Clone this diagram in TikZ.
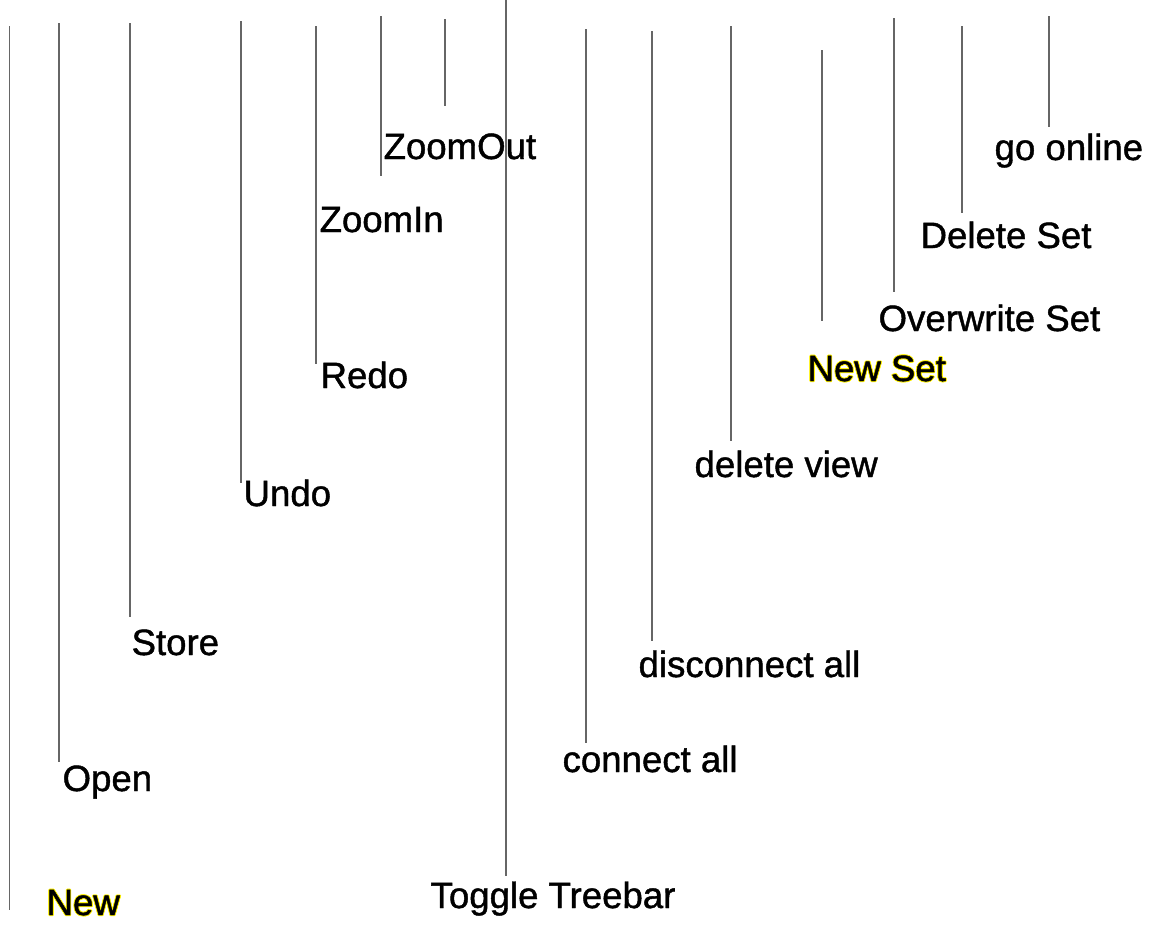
\documentclass[tikz,border=0pt]{standalone}
\usepackage{fontspec}
\setmainfont{Liberation Sans}
\newfontfamily\tagfont[FakeBold=1.2]{Liberation Sans}
\usepackage{xcolor}
\usepackage{tikz}

% black text with a thin yellow rim round it
\newcommand{\yellowrim}[1]{%
  \makebox[0pt][l]{\color{yellow}%
    \rlap{\kern-.45pt#1}\rlap{\kern.45pt#1}%
    \rlap{\raisebox{.45pt}{#1}}\rlap{\raisebox{-.45pt}{#1}}%
    \rlap{\kern-.3pt\raisebox{.3pt}{#1}}\rlap{\kern.3pt\raisebox{.3pt}{#1}}%
    \rlap{\kern-.3pt\raisebox{-.3pt}{#1}}\rlap{\kern.3pt\raisebox{-.3pt}{#1}}}%
  #1}

\begin{document}
\begin{tikzpicture}[x=0.5pt,y=-0.5pt,-,semithick]
  \tikzstyle{tag}=[anchor=base west, inner sep=0pt, font=\tagfont\fontsize{18.3}{20}\selectfont]
  \tikzstyle{pin}=[draw=black!60, line width=0.6pt]
  \useasboundingbox (0,0) rectangle (1160,933);

  % labels
  \node[tag] (new)    at (46,915)  {\yellowrim{New}};
  \node[tag] (open)   at (62,791)  {Open};
  \node[tag] (store)  at (131,655) {Store};
  \node[tag] (undo)   at (243,506) {Undo};
  \node[tag] (redo)   at (320,388) {Redo};
  \node[tag] (zin)    at (319,232) {ZoomIn};
  \node[tag] (zout)   at (383,159) {ZoomOut};
  \node[tag] (tree)   at (430,908) {Toggle Treebar};
  \node[tag] (conn)   at (562,772) {connect all};
  \node[tag] (disc)   at (638,677) {disconnect all};
  \node[tag] (delv)   at (694,477) {delete view};
  \node[tag] (nset)   at (807,381) {\yellowrim{New Set}};
  \node[tag] (oset)   at (878,331) {Overwrite Set};
  \node[tag] (dset)   at (920,248) {Delete Set};
  \node[tag] (online) at (994,160) {go online};

  % where the pointers start and stop
  \coordinate (new0) at (9.5,26);   \coordinate (new1) at (9.5,910);
  \coordinate (open0) at (59,23);   \coordinate (open1) at (59,762);
  \coordinate (store0) at (130,23); \coordinate (store1) at (130,617);
  \coordinate (undo0) at (241,21);  \coordinate (undo1) at (241,483);
  \coordinate (redo0) at (316,26);  \coordinate (redo1) at (316,364);
  \coordinate (zin0) at (381,16);   \coordinate (zin1) at (381,176);
  \coordinate (zout0) at (445,19);  \coordinate (zout1) at (445,106);
  \coordinate (tree0) at (506,0);   \coordinate (tree1) at (506,876);
  \coordinate (conn0) at (586,29);  \coordinate (conn1) at (586,743);
  \coordinate (disc0) at (652,31);  \coordinate (disc1) at (652,641);
  \coordinate (delv0) at (731,26);  \coordinate (delv1) at (731,441);
  \coordinate (nset0) at (822,50);  \coordinate (nset1) at (822,321);
  \coordinate (oset0) at (894,18);  \coordinate (oset1) at (894,292);
  \coordinate (dset0) at (962,26);  \coordinate (dset1) at (962,213);
  \coordinate (online0) at (1049,16); \coordinate (online1) at (1049,127);

  \path[pin]
    (new0) edge (new1)
    (open0) edge (open1)
    (store0) edge (store1)
    (undo0) edge (undo1)
    (redo0) edge (redo1)
    (zin0) edge (zin1)
    (zout0) edge (zout1)
    (tree0) edge (tree1)
    (conn0) edge (conn1)
    (disc0) edge (disc1)
    (delv0) edge (delv1)
    (nset0) edge (nset1)
    (oset0) edge (oset1)
    (dset0) edge (dset1)
    (online0) edge (online1);
\end{tikzpicture}
\end{document}
